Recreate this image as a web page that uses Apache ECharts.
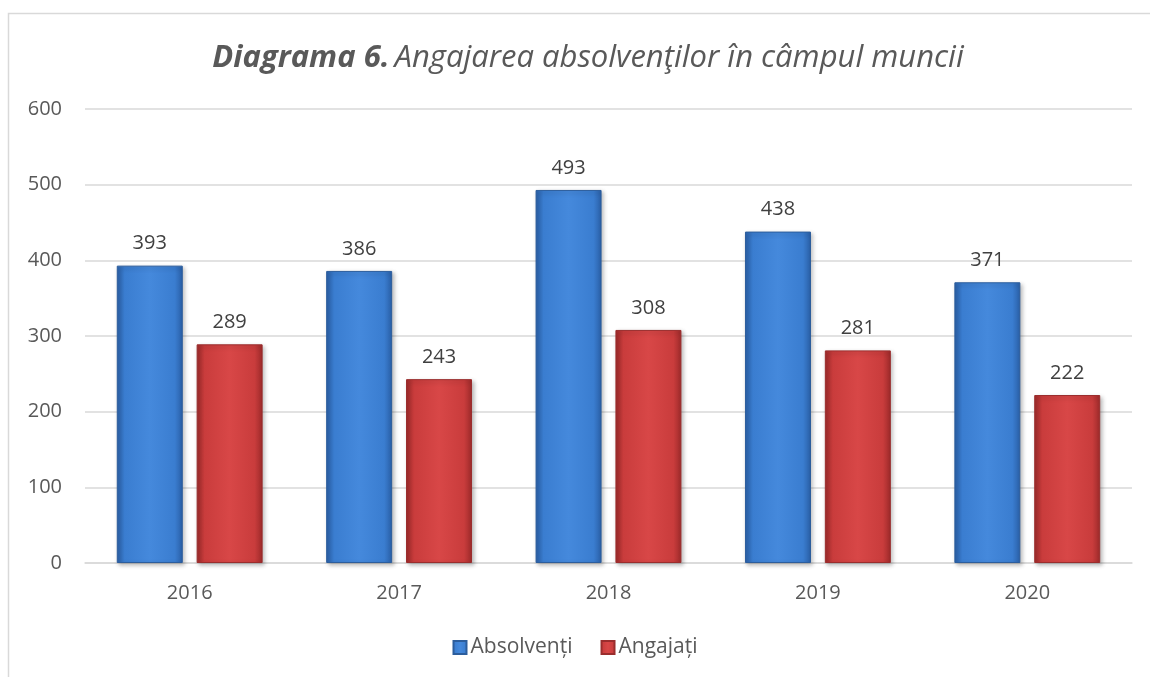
<!DOCTYPE html>
<html>
<head>
<meta charset="utf-8">
<script src="https://cdn.jsdelivr.net/npm/echarts@6/dist/echarts.min.js"></script>
<style>
    html, body { margin: 0; padding: 0; background: #fff; }
    #chart { width: 1150px; height: 677px; }
</style>
</head>
<body>
<div id="chart"></div>
<script>
(function (window) {
    "use strict";
    var years = ['2016', '2017', '2018', '2019', '2020'];
    var absolventi = [393, 386, 493, 438, 371];
    var angajati = [289, 243, 308, 281, 222];
    var yTicks = [0, 100, 200, 300, 400, 500, 600];

    var font = '"Open Sans", sans-serif';

    var bevel = function (edge, mid, light) {
        return new echarts.graphic.LinearGradient(0, 0, 1, 0, [
            { offset: 0, color: edge },
            { offset: 0.12, color: mid },
            { offset: 0.5, color: light },
            { offset: 0.88, color: mid },
            { offset: 1, color: edge }
        ]);
    };

    var make_series = function (name, data, edge, mid, light, border) {
        return {
            name: name,
            type: 'bar',
            data: data,
            barWidth: 66,
            barGap: '21%',
            itemStyle: {
                color: bevel(edge, mid, light),
                borderColor: border,
                borderWidth: 1,
                shadowColor: 'rgba(0,0,0,0.25)',
                shadowBlur: 4,
                shadowOffsetX: 2,
                shadowOffsetY: 2
            },
            label: {
                show: true,
                position: 'top',
                distance: 12,
                color: '#404040',
                fontFamily: font,
                fontSize: 20
            }
        };
    };

    var load = function () {
        var chart = echarts.init(document.getElementById('chart'), null, { renderer: 'canvas' });
        chart.setOption({
            animation: false,
            backgroundColor: '#fff',
            graphic: [{
                type: 'rect',
                shape: { x: 8.5, y: 13.5, width: 1160, height: 700 },
                style: { fill: 'none', stroke: '#d9d9d9', lineWidth: 1.5 },
                silent: true
            }],
            title: {
                text: '{b|Diagrama 6.} {n|Angajarea absolvenţilor în câmpul muncii}',
                left: 583,
                textAlign: 'center',
                top: 38,
                textStyle: {
                    fontWeight: 'normal',
                    rich: {
                        b: { fontFamily: font, fontSize: 31, fontWeight: 'bold', fontStyle: 'italic', color: '#595959' },
                        n: { fontFamily: font, fontSize: 31, fontWeight: 'normal', fontStyle: 'italic', color: '#595959' }
                    }
                }
            },
            legend: {
                bottom: 14,
                left: 'center',
                itemWidth: 13,
                itemHeight: 13,
                itemGap: 28,
                icon: 'rect',
                textStyle: { fontFamily: font, fontSize: 21, color: '#595959', padding: [0, 0, 0, -1] },
                data: ['Absolvenți', 'Angajați']
            },
            grid: { left: 85, right: 18, top: 109, bottom: 114 },
            xAxis: {
                type: 'category',
                data: years,
                axisLine: { lineStyle: { color: '#d9d9d9', width: 1.5 } },
                axisTick: { show: false },
                axisLabel: { color: '#595959', fontFamily: font, fontSize: 20, margin: 20 }
            },
            yAxis: {
                type: 'value',
                min: yTicks[0],
                max: yTicks[yTicks.length - 1],
                interval: 100,
                axisLine: { show: false },
                axisTick: { show: false },
                splitLine: { lineStyle: { color: '#d9d9d9', width: 1.5 } },
                axisLabel: { color: '#595959', fontFamily: font, fontSize: 20, margin: 23 }
            },
            series: [
                make_series('Absolvenți', absolventi, '#2a5fa6', '#3a7dd0', '#4589dc', '#2c5d9c'),
                make_series('Angajați', angajati, '#9c2a2a', '#c93c3c', '#d84747', '#9a2d2d')
            ]
        });
    };

    window.addEventListener('load', load, false);
})(window);
</script>
</body>
</html>
